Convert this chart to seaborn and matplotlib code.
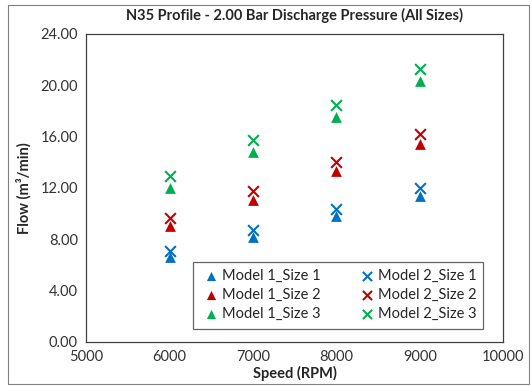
import pandas as pd
import matplotlib
matplotlib.use("Agg")
import matplotlib.pyplot as plt
import seaborn as sns
from matplotlib.patches import Rectangle

speed = [6000, 7000, 8000, 9000]

model1_size1 = [6.6, 8.2, 9.8, 11.4]
model1_size2 = [9.0, 11.1, 13.3, 15.4]
model1_size3 = [12.0, 14.8, 17.5, 20.3]
model2_size1 = [7.1, 8.7, 10.4, 12.0]
model2_size2 = [9.7, 11.8, 14.0, 16.2]
model2_size3 = [12.9, 15.7, 18.5, 21.3]

series_names = ["Model 1_Size 1", "Model 1_Size 2", "Model 1_Size 3",
                "Model 2_Size 1", "Model 2_Size 2", "Model 2_Size 3"]
series_values = [model1_size1, model1_size2, model1_size3,
                 model2_size1, model2_size2, model2_size3]
series_colors = ["#0070C0", "#C00000", "#00B050",
                 "#0070C0", "#C00000", "#00B050"]
series_markers = ["^", "^", "^", "x", "x", "x"]

x_ticks = [5000, 6000, 7000, 8000, 9000, 10000]
y_ticks = [0, 4, 8, 12, 16, 20, 24]


def main():
    sns.set_style("white")
    plt.rcParams["font.family"] = ["Lato", "DejaVu Sans"]

    fig = plt.figure(figsize=(5.32, 3.86), dpi=100)
    ax = fig.add_axes([0.162, 0.114, 0.784, 0.798])

    for name, vals, col, mk in zip(series_names, series_values, series_colors, series_markers):
        df = pd.DataFrame({"Speed": speed, "Flow": vals})
        if mk == "x":
            sns.scatterplot(data=df, x="Speed", y="Flow", ax=ax, color=col, marker="x",
                            s=60, linewidth=1.5, label=name)
        else:
            sns.scatterplot(data=df, x="Speed", y="Flow", ax=ax, color=col, marker="^",
                            s=60, edgecolor=col, linewidth=0, label=name)

    ax.set_xlim(5000, 10000)
    ax.set_ylim(0, 24)
    ax.set_xticks(x_ticks)
    ax.set_yticks(y_ticks)
    ax.set_yticklabels([f"{v:.2f}" for v in y_ticks])
    ax.tick_params(axis="both", labelsize=10.5, length=0, pad=6, colors="#333333")

    for sp in ax.spines.values():
        sp.set_color("#404040")
        sp.set_linewidth(0.9)

    ax.set_xlabel("Speed (RPM)", fontsize=10.5, fontweight="bold", labelpad=1)
    ax.set_ylabel("Flow (m³/min)", fontsize=10.5, fontweight="bold", labelpad=6)
    ax.set_title("N35 Profile - 2.00 Bar Discharge Pressure (All Sizes)",
                 fontsize=10.5, fontweight="bold", pad=10)

    leg = ax.legend(ncol=2, loc="lower right", bbox_to_anchor=(0.97, 0.02),
                    fontsize=10.5, frameon=True, fancybox=False, handletextpad=0.0,
                    handlelength=1.5, columnspacing=2.4, labelspacing=0.35,
                    borderpad=0.5, markerscale=0.85)
    leg.get_frame().set_edgecolor("#404040")
    leg.get_frame().set_linewidth(0.9)

    fig.patches.append(Rectangle((0.015, 0.005), 0.98, 0.982, transform=fig.transFigure,
                                 fill=False, edgecolor="#808080", linewidth=0.8))

    fig.savefig("out.png", dpi=100)


if __name__ == "__main__":
    main()
